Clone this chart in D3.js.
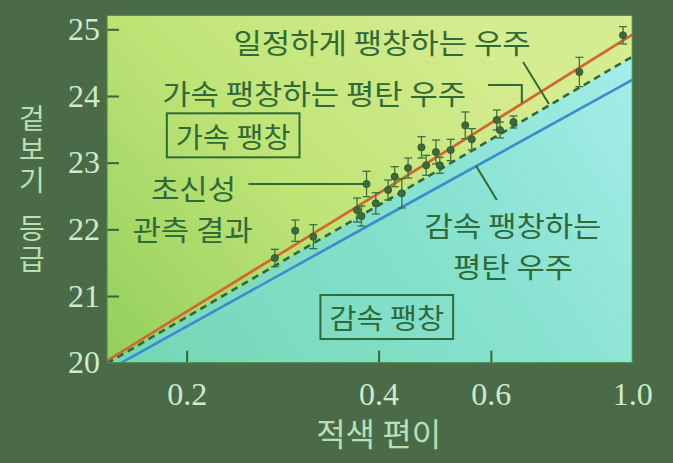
<!DOCTYPE html>
<html>
<head>
<meta charset="utf-8">
<script src="https://cdn.jsdelivr.net/npm/d3@7"></script>
<style>
  html, body { margin: 0; padding: 0; background: #4a6a48; }
  svg { display: block; }
</style>
</head>
<body>
<svg id="chart"></svg>
<script>
const width = 673;
const height = 463;

// supernova observations (redshift, apparent magnitude, error)
const snZ   = [0.275, 0.296, 0.316, 0.370, 0.376, 0.383, 0.396, 0.414, 0.424, 0.435, 0.445, 0.467, 0.475, 0.492, 0.499, 0.519, 0.547, 0.560, 0.613, 0.620, 0.651, 0.826, 0.967];
const snMag = [21.57, 21.98, 21.89, 22.29, 22.20, 22.68, 22.39, 22.59, 22.79, 22.54, 22.92, 23.23, 22.96, 23.16, 22.96, 23.19, 23.56, 23.35, 23.64, 23.49, 23.61, 24.36, 24.91];
const snErr = [0.13, 0.16, 0.18, 0.18, 0.15, 0.19, 0.16, 0.15, 0.15, 0.22, 0.15, 0.16, 0.15, 0.18, 0.12, 0.16, 0.20, 0.16, 0.15, 0.12, 0.09, 0.22, 0.13];

// model curves
const modelZ   = [0.15, 0.4, 1.0];
const coastMag = [20.03, 22.54, 24.92];   // 일정하게 팽창하는 우주
const accelMag = [19.99, 22.36, 24.59];   // 가속 팽창하는 평탄 우주
const decelMag = [19.88, 22.14, 24.24];   // 감속 팽창하는 평탄 우주

const xTicks = [0.2, 0.4, 0.6, 1.0];
const yTicks = [20, 21, 22, 23, 24, 25];

const svg = d3.select("#chart").attr("width", width).attr("height", height);

const xScale = d3.scaleLog().domain([0.15, 1.0]).range([107, 632.3]);
const yScale = d3.scaleLinear().domain([20, 25]).range([362.7, 29.3]);
const yTop = 25.21;

const px0 = xScale(0.15), px1 = xScale(1.0);
const py0 = yScale(yTop), py1 = yScale(20);

const defs = svg.append("defs");
const gUp = defs.append("linearGradient").attr("id", "gUp")
    .attr("gradientUnits", "userSpaceOnUse")
    .attr("x1", px0).attr("y1", py1).attr("x2", px1 - 150).attr("y2", py0);
gUp.append("stop").attr("offset", 0).attr("stop-color", "#92cf5c");
gUp.append("stop").attr("offset", 0.5).attr("stop-color", "#bfe476");
gUp.append("stop").attr("offset", 1).attr("stop-color", "#d6ec90");
const gLow = defs.append("linearGradient").attr("id", "gLow")
    .attr("gradientUnits", "userSpaceOnUse")
    .attr("x1", px0).attr("y1", py1).attr("x2", px1).attr("y2", py0);
gLow.append("stop").attr("offset", 0).attr("stop-color", "#74d6b4");
gLow.append("stop").attr("offset", 0.6).attr("stop-color", "#88e2d0");
gLow.append("stop").attr("offset", 1).attr("stop-color", "#a8eeec");

defs.append("clipPath").attr("id", "plotClip")
  .append("rect").attr("x", px0).attr("y", py0).attr("width", px1 - px0).attr("height", py1 - py0);

// plot background
svg.append("rect")
    .attr("x", px0).attr("y", py0)
    .attr("width", px1 - px0).attr("height", py1 - py0)
    .attr("fill", "url(#gUp)");

const plot = svg.append("g").attr("clip-path", "url(#plotClip)");

// region below the accelerating curve
const area = d3.area()
    .x((d, i) => xScale(modelZ[i]))
    .y0(py1)
    .y1(d => yScale(d));
plot.append("path").datum(accelMag).attr("d", area).attr("fill", "url(#gLow)");

const line = d3.line()
    .x((d, i) => xScale(modelZ[i]))
    .y(d => yScale(d));

plot.append("path").datum(decelMag).attr("d", line)
    .attr("fill", "none").attr("stroke", "#3b8bd2").attr("stroke-width", 2.6);
plot.append("path").datum(coastMag).attr("d", line)
    .attr("fill", "none").attr("stroke", "#d2662e").attr("stroke-width", 2.6);
plot.append("path").datum(accelMag).attr("d", line)
    .attr("fill", "none").attr("stroke", "#2e6a38").attr("stroke-width", 2.6)
    .attr("stroke-dasharray", "7,5");

// axes
const yAxis = svg.append("g")
    .attr("transform", `translate(${px0},0)`)
    .call(d3.axisLeft(yScale).tickValues(yTicks).tickSize(-12).tickPadding(7).tickFormat(d3.format("d")));
const xAxis = svg.append("g")
    .attr("transform", `translate(0,${py1})`)
    .call(d3.axisBottom(xScale).tickValues(xTicks).tickSize(-12).tickPadding(20).tickFormat(d3.format(".1f")));

[yAxis, xAxis].forEach(ax => {
    ax.select(".domain").remove();
    ax.selectAll(".tick line").attr("stroke", "#2f6a36").attr("stroke-width", 2);
    ax.selectAll(".tick text")
        .attr("fill", "#cdeccb")
        .style("font-family", "'Liberation Serif', 'DejaVu Serif', serif")
        .style("font-size", "32px");
});
yAxis.selectAll(".tick line").filter(d => d === 20).remove();
xAxis.selectAll(".tick line").filter(d => d === 1.0).remove();

// plot frame edge
svg.append("rect")
    .attr("x", px0).attr("y", py0)
    .attr("width", px1 - px0).attr("height", py1 - py0)
    .attr("fill", "none").attr("stroke", "#4d8a4c").attr("stroke-width", 1.2);

// axis titles
svg.append("text")
    .attr("x", (px0 + px1) / 2 + 9)
    .attr("y", 432)
    .attr("text-anchor", "middle")
    .attr("dominant-baseline", "central")
    .attr("fill", "#b9e0b4")
    .style("font-family", "'Noto Sans CJK KR', sans-serif")
    .style("font-size", "32px")
    .text("적색 편이");

const yTitleParts = [{ t: "겉보기", top: 104 }, { t: "등급", top: 214 }];
yTitleParts.forEach(p => {
    svg.append("text")
        .attr("x", 32).attr("y", p.top)
        .attr("fill", "#b9e0b4")
        .style("font-family", "'Noto Sans CJK KR', sans-serif")
        .style("font-size", "28px")
        .style("writing-mode", "vertical-rl")
        .style("text-orientation", "upright")
        .style("letter-spacing", "3px")
        .text(p.t);
});

// annotation leaders
const ink = "#2f6a38";
const leaders = [
    [[0.674, 24.51], [0.740, 23.88]],
    [[0.594, 24.165], [0.671, 24.165], [0.671, 23.895]],
    [[0.25, 22.68], [0.383, 22.68]],
    [[0.569, 22.95], [0.613, 22.44]]
];
const leaderLine = d3.line().x(d => xScale(d[0])).y(d => yScale(d[1]));
svg.append("g").selectAll("path").data(leaders).join("path")
    .attr("d", leaderLine)
    .attr("fill", "none").attr("stroke", ink).attr("stroke-width", 2);

// error bars and points
const sn = svg.append("g");
snZ.forEach((z, i) => {
    const cx = xScale(z);
    const yHi = yScale(snMag[i] + snErr[i]);
    const yLo = yScale(snMag[i] - snErr[i]);
    sn.append("line").attr("x1", cx).attr("x2", cx).attr("y1", yHi).attr("y2", yLo)
        .attr("stroke", "#3e7242").attr("stroke-width", 1.3);
    [yHi, yLo].forEach(yy => {
        sn.append("line").attr("x1", cx - 4).attr("x2", cx + 4).attr("y1", yy).attr("y2", yy)
            .attr("stroke", "#3e7242").attr("stroke-width", 1.3);
    });
    sn.append("circle").attr("cx", cx).attr("cy", yScale(snMag[i])).attr("r", 3.6)
        .attr("fill", "#3c6b3e").attr("stroke", "#2d5530").attr("stroke-width", 0.8);
});

// annotation texts (slightly widened glyphs like the original lettering)
const labels = [
    { t: "일정하게 팽창하는 우주", z: 0.405, m: 24.81, sx: 1.1 },
    { t: "가속 팽창하는 평탄 우주", z: 0.317, m: 24.045, sx: 1.1 },
    { t: "가속 팽창", z: 0.2366, m: 23.41, sx: 1.05, box: true },
    { t: "초신성", z: 0.205, m: 22.62, sx: 1.1 },
    { t: "관측 결과", z: 0.2043, m: 22.005, sx: 1.1 },
    { t: "감속 팽창하는", z: 0.650, m: 22.072, sx: 1.1 },
    { t: "평탄 우주", z: 0.650, m: 21.457, sx: 1.1 },
    { t: "감속 팽창", z: 0.412, m: 20.685, sx: 1.05, box: true }
];
const lab = svg.append("g");
labels.forEach(l => {
    const cx = xScale(l.z), cy = yScale(l.m);
    const tx = lab.append("text")
        .attr("transform", `translate(${cx},${cy}) scale(${l.sx},1)`)
        .attr("text-anchor", "middle")
        .attr("dominant-baseline", "central")
        .attr("fill", ink)
        .style("font-family", "'Noto Sans CJK KR', sans-serif")
        .style("font-size", "28px")
        .text(l.t);
    if (l.box) {
        const w = tx.node().getBBox().width * l.sx;
        lab.insert("rect", "text")
            .attr("x", cx - w / 2 - 9).attr("y", cy - 22)
            .attr("width", w + 18).attr("height", 44)
            .attr("fill", "none").attr("stroke", ink).attr("stroke-width", 2);
    }
});
</script>
</body>
</html>
